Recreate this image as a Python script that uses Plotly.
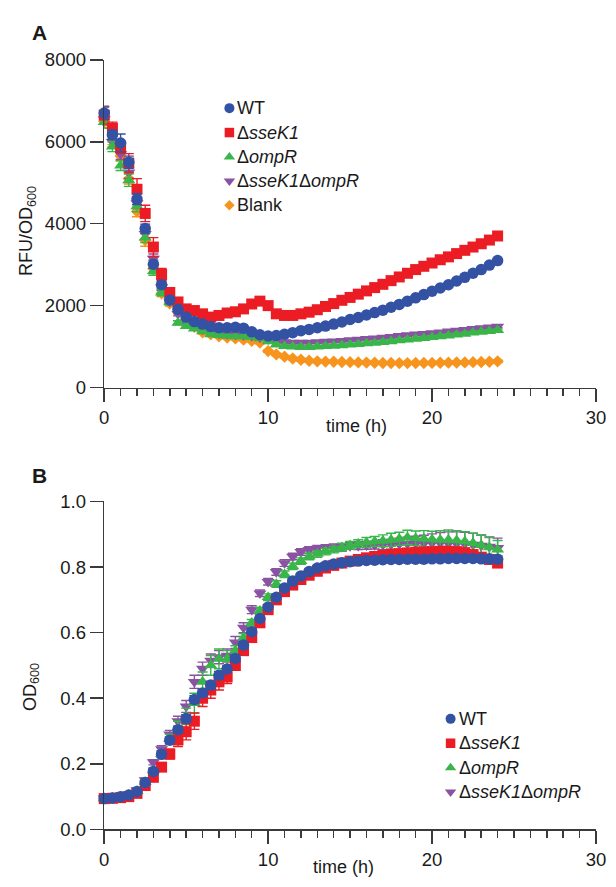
import plotly.graph_objects as go

# ---------------- data ----------------
time_h = [0, 0.5, 1, 1.5, 2, 2.5, 3, 3.5, 4, 4.5, 5, 5.5, 6, 6.5, 7, 7.5, 8, 8.5, 9, 9.5,
          10, 10.5, 11, 11.5, 12, 12.5, 13, 13.5, 14, 14.5, 15, 15.5, 16, 16.5, 17, 17.5,
          18, 18.5, 19, 19.5, 20, 20.5, 21, 21.5, 22, 22.5, 23, 23.5, 24]

series_names = ["WT", "Δ<i>sseK1</i>", "Δ<i>ompR</i>", "Δ<i>sseK1</i>Δ<i>ompR</i>", "Blank"]

# Panel A: RFU/OD600
wt_rfu = [6700, 6170, 5970, 5500, 4600, 3880, 3010, 2510, 2140, 1910, 1720, 1610, 1550, 1490, 1460, 1460,
          1470, 1450, 1360, 1290, 1260, 1270, 1300, 1340, 1390, 1420, 1460, 1500, 1550, 1600, 1660, 1710,
          1770, 1830, 1890, 1960, 2030, 2110, 2190, 2270, 2350, 2430, 2510, 2600, 2690, 2790, 2880, 2990, 3100]
ssek1_rfu = [6650, 6330, 5860, 5480, 4840, 4250, 3430, 2760, 2320, 2090, 1920, 1880, 1800, 1720, 1760, 1820,
             1850, 1920, 2040, 2110, 2000, 1800, 1760, 1760, 1800, 1840, 1900, 1980, 2050, 2130, 2200, 2280,
             2360, 2440, 2520, 2610, 2700, 2790, 2880, 2960, 3040, 3120, 3190, 3270, 3350, 3430, 3510, 3600, 3700]
ompr_rfu = [6480, 5880, 5420, 5060, 4420, 3660, 2840, 2320, 2080, 1580, 1500, 1440, 1370, 1300, 1280, 1260,
            1250, 1250, 1240, 1200, 1130, 1050, 1010, 1000, 990, 990, 1000, 1010, 1020, 1030, 1050, 1060,
            1080, 1090, 1110, 1130, 1150, 1170, 1190, 1210, 1230, 1250, 1270, 1290, 1310, 1340, 1360, 1380, 1400]
double_rfu = [6550, 6000, 5700, 5250, 4500, 3750, 3150, 2450, 2100, 1800, 1600, 1500, 1420, 1360, 1320, 1300,
              1290, 1280, 1260, 1220, 1180, 1130, 1110, 1100, 1100, 1100, 1110, 1120, 1130, 1140, 1160, 1170,
              1190, 1200, 1220, 1240, 1260, 1280, 1300, 1310, 1330, 1350, 1370, 1390, 1410, 1430, 1450, 1470, 1490]
blank_rfu = [6500, 6050, 5650, 5100, 4300, 3600, 2900, 2300, 2050, 1850, 1700, 1480, 1350, 1300, 1250, 1220,
             1200, 1170, 1140, 1100, 890, 810, 755, 710, 680, 655, 640, 635, 630, 625, 620, 615,
             610, 605, 600, 600, 598, 598, 600, 600, 602, 605, 608, 612, 615, 620, 625, 630, 640]

wt_rfu_err = [150, 110, 220, 150, 130, 110, 100, 80, 60, 50, 40, 40, 35, 35, 30, 30, 30, 30, 30, 30, 30, 30, 30, 30, 30,
              30, 30, 30, 30, 30, 30, 30, 30, 30, 30, 30, 30, 30, 30, 30, 30, 30, 30, 30, 30, 30, 30, 30, 30]
ssek1_rfu_err = [220, 150, 150, 230, 260, 200, 230, 150, 100, 80, 60, 50, 50, 50, 50, 60, 60, 60, 80, 100, 90, 60, 50, 50, 50,
                 40, 40, 40, 40, 40, 40, 40, 40, 40, 40, 40, 40, 40, 40, 40, 40, 40, 40, 40, 40, 40, 40, 40, 40]
ompr_rfu_err = [150, 120, 120, 150, 130, 120, 100, 80, 60, 50, 40, 40, 35, 35, 30, 30, 30, 30, 30, 30, 30, 30, 30, 30, 30,
                30, 30, 30, 30, 30, 30, 30, 30, 30, 30, 30, 30, 30, 30, 30, 30, 30, 30, 30, 30, 30, 30, 30, 30]
double_rfu_err = [140, 130, 130, 140, 130, 120, 110, 80, 60, 50, 40, 40, 35, 35, 30, 30, 30, 30, 30, 30, 30, 30, 30, 30, 30,
                  30, 30, 30, 30, 30, 30, 30, 30, 30, 30, 30, 30, 30, 30, 30, 30, 30, 30, 30, 30, 30, 30, 30, 30]
blank_rfu_err = [150, 120, 120, 130, 130, 150, 120, 80, 60, 50, 40, 40, 35, 35, 30, 30, 30, 30, 30, 30, 30, 30, 30, 30, 30,
                 30, 30, 30, 30, 30, 30, 30, 30, 30, 30, 30, 30, 30, 30, 30, 30, 30, 30, 30, 30, 30, 30, 30, 30]

# Panel B: OD600
wt_od = [0.094, 0.096, 0.100, 0.105, 0.116, 0.143, 0.177, 0.229, 0.272, 0.304, 0.338, 0.396, 0.416, 0.440, 0.470, 0.489,
         0.521, 0.562, 0.603, 0.643, 0.678, 0.708, 0.736, 0.757, 0.773, 0.786, 0.797, 0.804, 0.809, 0.813, 0.816, 0.818,
         0.820, 0.821, 0.822, 0.823, 0.823, 0.824, 0.824, 0.824, 0.825, 0.825, 0.826, 0.826, 0.826, 0.826, 0.825, 0.825, 0.824]
ssek1_od = [0.094, 0.095, 0.097, 0.100, 0.110, 0.134, 0.159, 0.190, 0.230, 0.273, 0.298, 0.330, 0.400, 0.425, 0.450, 0.465,
            0.500, 0.545, 0.585, 0.630, 0.670, 0.700, 0.725, 0.745, 0.762, 0.775, 0.787, 0.797, 0.805, 0.812, 0.818, 0.823,
            0.828, 0.832, 0.836, 0.839, 0.841, 0.843, 0.845, 0.846, 0.847, 0.848, 0.848, 0.847, 0.844, 0.838, 0.830, 0.823, 0.812]
ompr_od = [0.095, 0.097, 0.100, 0.105, 0.117, 0.145, 0.180, 0.230, 0.275, 0.310, 0.345, 0.385, 0.450, 0.500, 0.520, 0.520,
           0.545, 0.585, 0.630, 0.667, 0.708, 0.748, 0.778, 0.802, 0.818, 0.832, 0.840, 0.847, 0.853, 0.860, 0.866, 0.871,
           0.875, 0.878, 0.880, 0.883, 0.886, 0.890, 0.888, 0.886, 0.884, 0.883, 0.883, 0.881, 0.878, 0.873, 0.867, 0.860, 0.853]
double_od = [0.095, 0.097, 0.101, 0.107, 0.120, 0.150, 0.205, 0.245, 0.290, 0.330, 0.375, 0.450, 0.490, 0.515, 0.525, 0.530,
             0.570, 0.615, 0.670, 0.720, 0.755, 0.785, 0.812, 0.832, 0.846, 0.852, 0.856, 0.858, 0.860, 0.862, 0.864, 0.865,
             0.866, 0.867, 0.868, 0.869, 0.870, 0.871, 0.872, 0.872, 0.873, 0.873, 0.872, 0.871, 0.870, 0.868, 0.865, 0.862, 0.858]

wt_od_err = [0.004, 0.004, 0.004, 0.005, 0.005, 0.006, 0.008, 0.010, 0.010, 0.010, 0.012, 0.012, 0.012, 0.012, 0.012, 0.010,
             0.010, 0.010, 0.010, 0.008, 0.008, 0.008, 0.008, 0.008, 0.008, 0.008, 0.008, 0.008, 0.008, 0.008, 0.008, 0.008,
             0.008, 0.008, 0.008, 0.008, 0.008, 0.008, 0.008, 0.008, 0.008, 0.008, 0.008, 0.008, 0.008, 0.008, 0.008, 0.008, 0.010]
ssek1_od_err = [0.004, 0.004, 0.004, 0.005, 0.005, 0.006, 0.008, 0.010, 0.015, 0.020, 0.025, 0.025, 0.025, 0.025, 0.025, 0.020,
                0.015, 0.012, 0.010, 0.010, 0.010, 0.010, 0.010, 0.010, 0.010, 0.010, 0.010, 0.010, 0.010, 0.010, 0.010, 0.010,
                0.010, 0.010, 0.010, 0.010, 0.010, 0.010, 0.010, 0.010, 0.010, 0.012, 0.012, 0.012, 0.012, 0.012, 0.012, 0.012, 0.012]
ompr_od_err = [0.004, 0.004, 0.004, 0.005, 0.005, 0.006, 0.008, 0.010, 0.015, 0.020, 0.025, 0.030, 0.030, 0.030, 0.030, 0.025,
               0.015, 0.012, 0.010, 0.010, 0.010, 0.010, 0.010, 0.010, 0.010, 0.010, 0.010, 0.010, 0.010, 0.012, 0.012, 0.012,
               0.015, 0.015, 0.018, 0.020, 0.020, 0.022, 0.022, 0.025, 0.025, 0.028, 0.030, 0.030, 0.030, 0.030, 0.030, 0.030, 0.028]
double_od_err = [0.004, 0.004, 0.004, 0.005, 0.005, 0.006, 0.008, 0.010, 0.012, 0.015, 0.018, 0.020, 0.020, 0.020, 0.020, 0.020,
                 0.018, 0.015, 0.012, 0.010, 0.010, 0.010, 0.010, 0.010, 0.010, 0.010, 0.010, 0.010, 0.010, 0.010, 0.010, 0.012,
                 0.012, 0.012, 0.015, 0.015, 0.018, 0.020, 0.022, 0.025, 0.028, 0.032, 0.035, 0.036, 0.036, 0.035, 0.033, 0.030, 0.030]

x_ticks = [0, 10, 20, 30]
rfu_ticks = [0, 2000, 4000, 6000, 8000]
od_ticks = [0.0, 0.2, 0.4, 0.6, 0.8, 1.0]
od_tick_labels = ["0.0", "0.2", "0.4", "0.6", "0.8", "1.0"]

# ---------------- style ----------------
W, H = 616, 887
FONT = "Liberation Sans, Arial, Helvetica, sans-serif"
TXT = "#1a1a1a"
AXC = "#3a3a3a"
colors = ["#3452A4", "#EC1C24", "#39B54A", "#8A52A2", "#F7941D"]
symbols = ["circle", "square", "triangle-up", "triangle-down", "diamond"]
msizes = [11.5, 11, 11.5, 11.5, 9.5]

def fx(p):
    return p / W

def fy(p):
    return 1 - p / H

X_L, X_R = 101.7, 605.7
A_T, A_B = 50.0, 385.7
B_T, B_B = 502.3, 838.3

fig = go.Figure()

def add_series(x, y, err, idx, xa, ya):
    fig.add_trace(go.Scatter(
        x=x, y=y, mode="markers", xaxis=xa, yaxis=ya, showlegend=False,
        cliponaxis=False, name=series_names[idx],
        marker=dict(symbol=symbols[idx], size=msizes[idx], color=colors[idx], line=dict(width=0)),
        error_y=dict(type="data", array=err, color=colors[idx], thickness=1.4, width=5),
    ))

# Panel A (bottom-to-top draw order)
add_series(time_h, blank_rfu, blank_rfu_err, 4, "x", "y")
add_series(time_h, double_rfu, double_rfu_err, 3, "x", "y")
add_series(time_h, ompr_rfu, ompr_rfu_err, 2, "x", "y")
add_series(time_h, ssek1_rfu, ssek1_rfu_err, 1, "x", "y")
add_series(time_h, wt_rfu, wt_rfu_err, 0, "x", "y")

# Panel B
add_series(time_h, double_od, double_od_err, 3, "x2", "y2")
add_series(time_h, ompr_od, ompr_od_err, 2, "x2", "y2")
add_series(time_h, ssek1_od, ssek1_od_err, 1, "x2", "y2")
add_series(time_h, wt_od, wt_od_err, 0, "x2", "y2")

# Legend keys drawn on a pixel-scaled overlay axis
legA_rows = [99.5, 124.5, 149.5, 174.2, 199.0]
legB_rows = [725.0, 750.0, 775.0, 800.0]
legA_x, legA_tx = 230.0, 236.0
legB_x, legB_tx = 456.7, 463.0

for i, ry in enumerate(legA_rows):
    fig.add_trace(go.Scatter(x=[legA_x], y=[ry], mode="markers", xaxis="x3", yaxis="y3",
                             showlegend=False, cliponaxis=False, hoverinfo="skip",
                             marker=dict(symbol=symbols[i], size=msizes[i] - 1.5, color=colors[i], line=dict(width=0))))
    fig.add_annotation(x=fx(legA_tx), y=fy(ry), xref="paper", yref="paper", text=series_names[i],
                       showarrow=False, xanchor="left", yanchor="middle",
                       font=dict(family=FONT, size=18, color=TXT))
for i, ry in enumerate(legB_rows):
    fig.add_trace(go.Scatter(x=[legB_x], y=[ry], mode="markers", xaxis="x3", yaxis="y3",
                             showlegend=False, cliponaxis=False, hoverinfo="skip",
                             marker=dict(symbol=symbols[i], size=msizes[i] - 1.5, color=colors[i], line=dict(width=0))))
    fig.add_annotation(x=fx(legB_tx), y=fy(ry), xref="paper", yref="paper", text=series_names[i],
                       showarrow=False, xanchor="left", yanchor="middle",
                       font=dict(family=FONT, size=18, color=TXT))

def xaxis_style(anchor):
    return dict(domain=[fx(X_L), fx(X_R)], anchor=anchor, range=[0, 30], tickvals=x_ticks,
                ticks="outside", ticklen=13, tickwidth=1.5, tickcolor=AXC,
                showline=True, linecolor=AXC, linewidth=1.5, showgrid=False, zeroline=False,
                tickfont=dict(family=FONT, size=18.5, color=TXT),
                minor=dict(dtick=1, ticks="outside", ticklen=7, tickwidth=1.5, tickcolor=AXC, showgrid=False),
                fixedrange=True)

def yaxis_style(anchor, top, bot, rng, tv, tt=None):
    d = dict(domain=[fy(bot), fy(top)], anchor=anchor, range=rng, tickvals=tv,
             ticks="outside", ticklen=13, tickwidth=1.5, tickcolor=AXC,
             showline=True, linecolor=AXC, linewidth=1.5, showgrid=False, zeroline=False,
             tickfont=dict(family=FONT, size=18.5, color=TXT), fixedrange=True)
    if tt is not None:
        d["ticktext"] = tt
    return d

fig.update_layout(
    width=W, height=H,
    margin=dict(l=0, r=0, t=0, b=0),
    paper_bgcolor="white", plot_bgcolor="rgba(0,0,0,0)",
    font=dict(family=FONT, size=18, color=TXT),
    xaxis=xaxis_style("y"),
    yaxis=yaxis_style("x", A_T, A_B, [0, 8000], rfu_ticks),
    xaxis2=xaxis_style("y2"),
    yaxis2=yaxis_style("x2", B_T, B_B, [0, 1.0], od_ticks, od_tick_labels),
    xaxis3=dict(domain=[0, 1], range=[0, W], visible=False, anchor="y3", fixedrange=True),
    yaxis3=dict(domain=[0, 1], range=[H, 0], visible=False, anchor="x3", fixedrange=True),
)

def label(text, px, py, size=18, angle=0, bold=False):
    fig.add_annotation(x=fx(px), y=fy(py), xref="paper", yref="paper",
                       text=("<b>%s</b>" % text) if bold else text, showarrow=False,
                       xanchor="center", yanchor="middle", textangle=angle,
                       font=dict(family=FONT, size=size, color=TXT))

label("A", 35, 22, size=21, bold=True)
label("B", 35, 476, size=21, bold=True)
label("time (h)", 360, 425)
label("time (h)", 347, 877)
label("RFU/OD<sub>600</sub>", 23, 225, angle=-90)
label("OD<sub>600</sub>", 27, 692, angle=-90)

fig.write_html(
    "out.html",
    config={"displayModeBar": False, "staticPlot": True},
    post_script="document.body.style.margin='0';document.body.style.padding='0';"
                "document.documentElement.style.overflow='hidden';",
)
